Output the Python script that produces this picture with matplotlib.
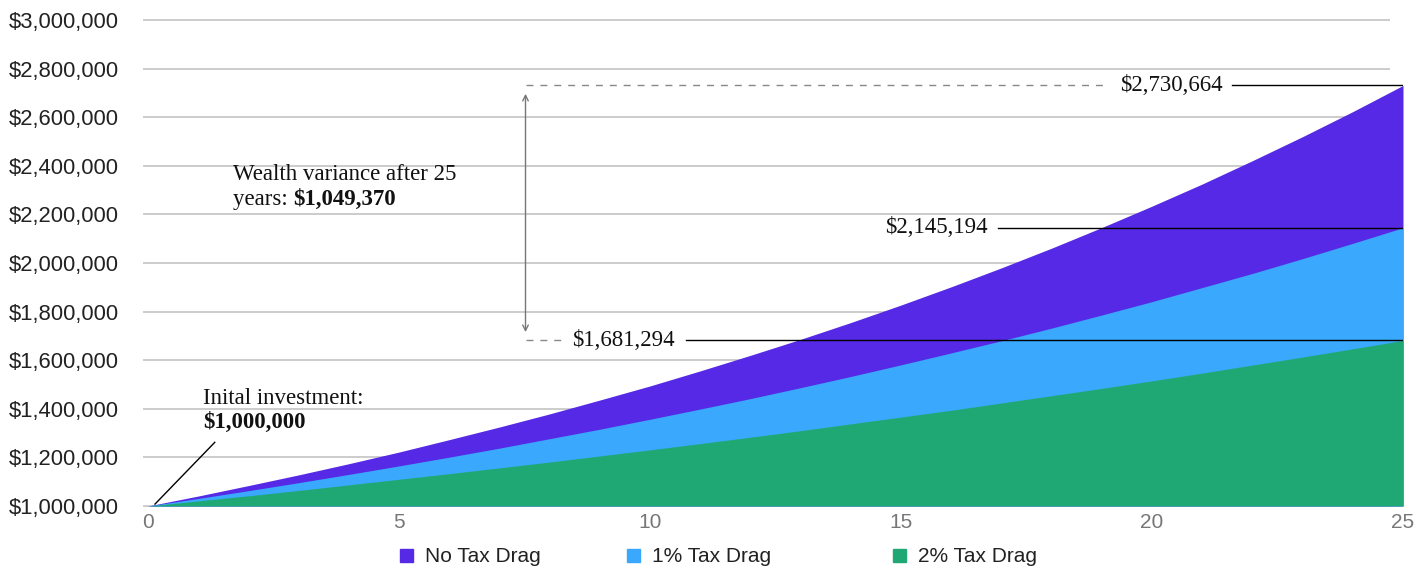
import matplotlib.pyplot as plt
from matplotlib.patches import Rectangle
from matplotlib.ticker import FuncFormatter

# values (portfolio value by year)
years = list(range(26))
no_drag = [1000000, 1041000, 1084000, 1128000, 1174000, 1222000, 1273000, 1325000,
           1379000, 1436000, 1494000, 1556000, 1620000, 1686000, 1755000, 1827000,
           1902000, 1980000, 2061000, 2146000, 2234000, 2325000, 2421000, 2520000,
           2623000, 2730664]
drag_1 = [1000000, 1031000, 1063000, 1096000, 1130000, 1165000, 1201000, 1238000,
          1277000, 1316000, 1357000, 1399000, 1442000, 1487000, 1533000, 1581000,
          1630000, 1680000, 1732000, 1786000, 1841000, 1899000, 1957000, 2018000,
          2081000, 2145194]
drag_2 = [1000000, 1021000, 1042000, 1064000, 1087000, 1110000, 1133000, 1157000,
          1181000, 1206000, 1231000, 1257000, 1283000, 1310000, 1338000, 1366000,
          1394000, 1424000, 1454000, 1484000, 1515000, 1547000, 1580000, 1613000,
          1647000, 1681294]

series = ["No Tax Drag", "1% Tax Drag", "2% Tax Drag"]
colors = ["#5629e6", "#39a8fd", "#20a874"]
yticks = [1000000, 1200000, 1400000, 1600000, 1800000, 2000000, 2200000,
          2400000, 2600000, 2800000, 3000000]
xticks = [0, 5, 10, 15, 20, 25]

serif = "Liberation Serif"
sans = "Liberation Sans"

fig = plt.figure(figsize=(14.19, 5.69), dpi=100)
ax = fig.add_axes([148 / 1419, 63 / 569, 1255 / 1419, 486 / 569])
ax.set_xlim(0, 25)
ax.set_ylim(1000000, 3000000)

# gridlines (slightly shorter than the plotted areas)
ax.hlines(yticks, -0.1, 24.75, color="#c4c4c4", lw=1.2, zorder=0, clip_on=False)

for vals, c in zip([no_drag, drag_1, drag_2], colors):
    ax.fill_between(years, 1000000, vals, color=c, lw=0, zorder=2)

for s in ax.spines.values():
    s.set_visible(False)

ax.set_yticks(yticks)
ax.yaxis.set_major_formatter(FuncFormatter(lambda v, p: "\\$" + f"{v:,.0f}"))
ax.set_xticks(xticks)
ax.tick_params(axis="y", length=0, pad=21, labelsize=15.8, labelcolor="#222222")
ax.tick_params(axis="x", length=0, pad=5, labelsize=15, labelcolor="#777777")
for lab in ax.get_xticklabels() + ax.get_yticklabels():
    lab.set_fontfamily(sans)

# end-value labels with leader lines
end_x = years[-1]
ax.plot([21.6, end_x], [no_drag[-1]] * 2, color="black", lw=1, zorder=4)
ax.text(21.4, no_drag[-1], "\\$" + f"{no_drag[-1]:,}", ha="right", va="center",
        fontsize=16.5, family=serif, color="#111111")
ax.plot([7.52, 19.1], [no_drag[-1]] * 2, color="#888888", lw=1, ls=(0, (5, 5)), zorder=4)

ax.plot([16.93, end_x], [drag_1[-1]] * 2, color="black", lw=1, zorder=4)
ax.text(16.73, drag_1[-1], "\\$" + f"{drag_1[-1]:,}", ha="right", va="center",
        fontsize=16.5, family=serif, color="#111111")

ax.plot([10.72, end_x], [drag_2[-1]] * 2, color="black", lw=1, zorder=4)
ax.text(8.45, drag_2[-1], "\\$" + f"{drag_2[-1]:,}", ha="left", va="center",
        fontsize=16.5, family=serif, color="#111111")
ax.plot([7.52, 8.3], [drag_2[-1]] * 2, color="#888888", lw=1, ls=(0, (5, 5)), zorder=4)

# variance arrow
ax.annotate("", xy=(7.52, no_drag[-1]), xytext=(7.52, drag_2[-1]),
            arrowprops=dict(arrowstyle="<->", color="#777777", lw=1,
                            shrinkA=6, shrinkB=6), zorder=4)

variance = no_drag[-1] - drag_2[-1]
ax.text(1.69, 2364000, "Wealth variance after 25", ha="left", va="center",
        fontsize=16.5, family=serif, color="#111111")
t = ax.text(1.69, 2262000, "years: ", ha="left", va="center",
            fontsize=16.5, family=serif, color="#111111")
ax.annotate("\\$" + f"{variance:,}", xy=(1, 0.5), xycoords=t, ha="left", va="center",
            fontsize=16.5, family=serif, weight="bold", color="#111111")

# initial investment note
ax.text(1.1, 1442000, "Inital investment:", ha="left", va="center",
        fontsize=16.5, family=serif, color="#111111")
ax.text(1.1, 1343000, "\\$" + f"{no_drag[0]:,}", ha="left", va="center",
        fontsize=16.5, family=serif, weight="bold", color="#111111")
ax.plot([0.14, 1.33], [1008000, 1262000], color="black", lw=1, zorder=4)

# legend
legend_x = [400, 627, 893]
for name, c, lx in zip(series, colors, legend_x):
    fig.patches.append(Rectangle((lx / 1419, 7 / 569), 13 / 1419, 13 / 569,
                                 transform=fig.transFigure, color=c))
    fig.text((lx + 25) / 1419, 13 / 569, name, ha="left", va="center",
             fontsize=15, family=sans, color="#222222")

fig.savefig("out.png", dpi=100)
